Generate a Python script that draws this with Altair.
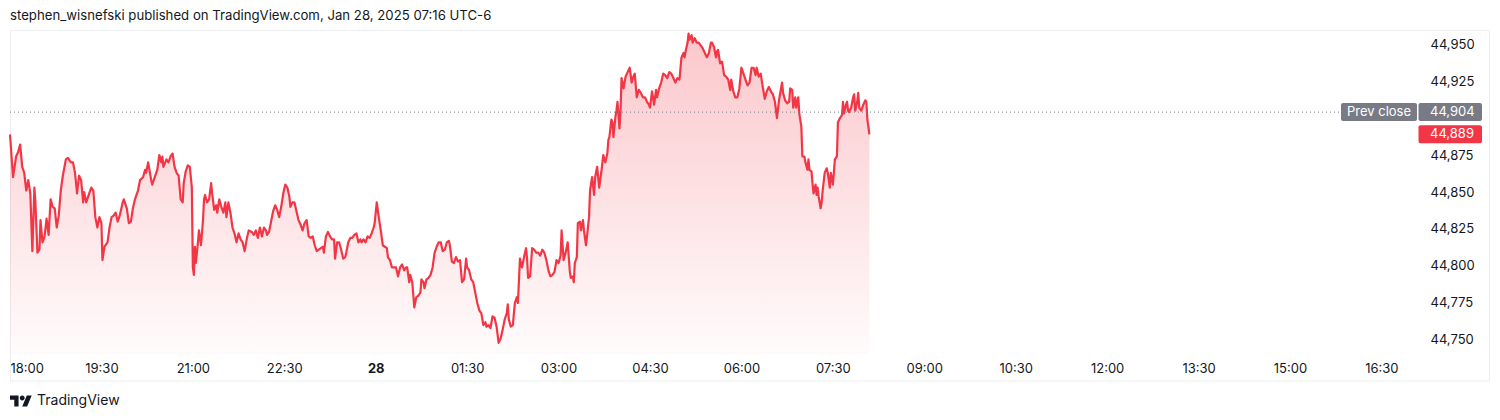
import altair as alt
import pandas as pd

# minutes after 18:00 (Jan 27) and price
MINUTES = [0,3,6,8,10,12,14,16,18,20,22,24,25,27,29,30,32,34,36,38,40,42,44,46,48,50,52,55,57,60,62,64,66,68,70,72,73,75,77,80,82,84,86,88,90,91,93,96,98,100,102,104,106,108,111,112,115,117,119,121,123,126,128,131,133,134,136,139,140,143,145,147,149,150,151,154,156,158,160,162,164,166,168,170,
171,173,175,177,179,180,181,182,183,185,186,188,190,191,192,194,196,198,199,201,203,204,206,208,210,212,213,215,217,219,221,223,225,227,229,231,233,235,238,240,242,244,246,248,250,252,253,255,257,259,261,263,265,267,269,271,273,275,276,278,280,282,284,286,288,290,292,294,296,298,300,302,304,306,308,309,311,313,315,317,319,320,322,324,326,328,330,331,333,335,337,339,341,343,345,
346,348,350,352,354,356,358,359,361,362,363,365,367,369,371,372,374,376,378,380,382,384,386,388,390,391,393,394,396,398,400,402,404,405,407,408,410,412,414,416,418,420,422,424,426,428,430,432,433,435,437,439,441,443,445,447,449,450,452,454,456,458,460,462,464,466,468,469,471,473,475,477,479,481,483,485,487,489,490,491,493,495,497,499,500,502,504,506,508,509,510,512,514,516,
518,520,522,524,526,528,530,532,534,536,538,540,542,543,545,547,549,551,552,554,555,556,558,559,561,562,564,565,567,568,570,571,573,575,576,578,580,582,584,586,588,589,590,592,593,594,596,597,598,600,601,602,604,606,608,610,612,613,615,617,619,621,623,625,627,629,630,632,633,634,636,637,639,641,643,645,647,649,651,653,655,657,659,661,663,664,665,667,668,669,671,672,674,676,678,680,
682,684,686,688,690,691,693,695,696,697,699,700,701,703,705,707,709,710,712,714,716,718,720,722,724,726,728,730,732,734,735,737,739,741,743,745,747,749,751,753,755,757,758,760,761,763,765,767,768,770,771,773,774,776,777,779,780,782,783,785,786,787,789,790,791,793,794,795,796,798,799,800,802,804,805,807,808,810,811,812,814,815,817,819,820,821,823,824,825,826,828,830,831,832,834,835,836,838,840,842,843,844,846]

PRICES = [44889,44860,44874,44877,44882,44867,44863,44851,44858,44849,44810,44853,44843,44809,44811,44831,44816,44820,44832,44821,44845,44840,44839,44826,44834,44851,44861,44872,44873,44870,44870,44863,44849,44861,44858,44843,44850,44843,44847,44853,44851,44833,44826,44833,44829,44804,44813,44816,44826,44833,44834,44836,44830,44834,44843,44845,44839,44829,44830,44839,44845,44851,44858,44860,44865,44863,44870,44858,44855,44861,44865,44875,44870,44874,44867,44872,44870,44874,44876,44867,44863,44861,44845,44843,
44856,44864,44868,44867,44853,44799,44794,44813,44802,44816,44824,44814,44831,44845,44848,44843,44845,44856,44849,44838,44841,44836,44845,44840,44836,44843,44833,44843,44836,44826,44822,44816,44822,44818,44816,44810,44818,44824,44823,44821,44824,44819,44826,44820,44826,44824,44821,44823,44830,44837,44841,44838,44833,44840,44849,44855,44853,44847,44840,44843,44843,44837,44831,44828,44824,44829,44831,44820,44819,44820,44814,44810,44811,44812,44813,44809,44820,44823,44820,44818,44818,44805,44816,44816,44811,44805,44806,44809,44816,44819,44819,44821,44822,44816,44818,
44816,44818,44816,44820,44819,44822,44826,44829,44843,44838,44833,44824,44814,44813,44812,44806,44804,44799,44799,44799,44793,44799,44801,44797,44799,44799,44789,44794,44789,44772,44779,44780,44782,44791,44789,44785,44791,44792,44794,44799,44809,44813,44816,44816,44810,44811,44816,44817,44814,44803,44802,44806,44803,44804,44789,44791,44805,44799,44797,44791,44789,44782,44775,44770,44768,44760,44762,44759,44760,44758,44766,44765,44759,44748,44751,44757,44764,44768,44774,44764,44759,44760,44775,44779,44775,44805,44799,44806,44812,44805,44792,44793,44812,44811,
44809,44809,44807,44811,44809,44804,44797,44793,44794,44796,44804,44802,44807,44824,44804,44809,44816,44797,44792,44793,44789,44802,44806,44829,44830,44824,44831,44824,44814,44820,44833,44851,44860,44848,44860,44867,44853,44863,44875,44870,44876,44885,44887,44899,44897,44887,44901,44905,44911,44893,44905,44927,44920,44928,44931,44934,44924,44927,44930,44914,44919,44917,44914,44914,44911,44909,44907,44918,44914,44909,44919,44914,44920,44924,44930,44929,44927,44931,44930,44927,44924,44927,44926,44941,44944,44941,44945,44951,44957,44953,44956,44951,44954,44951,44951,44949,
44947,44944,44941,44944,44951,44951,44948,44941,44945,44946,44937,44938,44938,44929,44928,44926,44919,44926,44918,44914,44914,44920,44934,44930,44926,44922,44924,44934,44934,44929,44934,44928,44930,44921,44913,44918,44921,44918,44916,44911,44900,44912,44916,44924,44917,44912,44910,44911,44920,44919,44907,44914,44907,44914,44903,44894,44874,44874,44870,44865,44872,44865,44864,44856,44849,44855,44848,44853,44847,44839,44843,44851,44863,44866,44863,44853,44863,44855,44863,44872,44874,44897,44900,44902,44911,44903,44909,44911,44905,44904,44907,44914,44916,44905,44911,44917,44907,44905,44909,44912,44911,44899,44889]

PREV_CLOSE = 44904
LAST_PRICE = PRICES[-1]

X_TICKS = [0, 90, 180, 270, 360, 450, 540, 630, 720, 810, 900, 990, 1080, 1170, 1260, 1350]
X_LABELS = ["18:00", "19:30", "21:00", "22:30", "28", "01:30", "03:00", "04:30",
            "06:00", "07:30", "09:00", "10:30", "12:00", "13:30", "15:00", "16:30"]
# 44,900 sits behind the price labels in the reference
Y_TICKS = [44750, 44775, 44800, 44825, 44850, 44875, 44925, 44950]

X_DOMAIN = [0, 1388]
Y_DOMAIN = [44740.5, 44959.5]

TITLE = "stephen_wisnefski published on TradingView.com, Jan 28, 2025 07:16 UTC-6"
BRAND = "TradingView"

RED = "#f23645"
GRAY = "#787b86"
TEXT = "#131722"
FONT = "Inter"

df = pd.DataFrame({"t": MINUTES, "p": PRICES})
one = pd.DataFrame({"a": [0]})
marks = pd.DataFrame({
    "v": [PREV_CLOSE, LAST_PRICE],
    "label": [f"{PREV_CLOSE:,}", f"{LAST_PRICE:,}"],
    "kind": ["prev", "last"],
})

label_expr = "[" + ",".join(f"'{s}'" for s in X_LABELS) + "][round(datum.value/90)]"

xscale = alt.Scale(domain=X_DOMAIN, nice=False, zero=False)
yscale = alt.Scale(domain=Y_DOMAIN, nice=False, zero=False)

xaxis = alt.Axis(
    values=X_TICKS, labelExpr=label_expr, title=None, grid=False, ticks=False,
    tickSize=0, domain=False, labelFlush=True, labelOverlap=False, labelBound=False,
    labelFontSize=13, labelColor=TEXT, labelFont=FONT, labelPadding=14,
    labelBaseline="middle",
    labelFontWeight={"condition": {"test": "datum.value === 360", "value": "bold"}, "value": "normal"},
)
yaxis = alt.Axis(
    values=Y_TICKS, format=",.0f", orient="right", title=None, grid=False, ticks=False,
    tickSize=0, domain=False, labelAlign="left", labelBaseline="middle", labelPadding=10,
    labelFontSize=13, labelColor=TEXT, labelFont=FONT, labelOverlap=False,
)

def Y(field):
    return alt.Y(field, scale=yscale, axis=yaxis)

def X(field):
    return alt.X(field, scale=xscale, axis=xaxis)

frame = alt.Chart(one).mark_rect(fill="transparent", stroke="#eceef2", strokeWidth=1).encode(
    x=alt.value(0.5), x2=alt.value(1479.5), y=alt.value(0.5), y2=alt.value(351)
)

gradient = alt.Gradient(
    gradient="linear",
    stops=[
        alt.GradientStop(color="rgba(242,54,69,0.28)", offset=0),
        alt.GradientStop(color="rgba(242,54,69,0.02)", offset=1),
    ],
    x1=1, x2=1, y1=0, y2=1,
)

area = alt.Chart(df).mark_area(color=gradient).encode(
    x=X("t:Q"), y=Y("p:Q"), y2=alt.datum(Y_DOMAIN[0]),
)

line = alt.Chart(df).mark_line(color=RED, strokeWidth=2.2, strokeJoin="round").encode(
    x=X("t:Q"), y=Y("p:Q"),
)

prev = marks[marks.kind == "prev"]
last = marks[marks.kind == "last"]

rule = alt.Chart(prev).mark_rule(color=GRAY, strokeDash=[1, 3], strokeWidth=1).encode(
    y=Y("v:Q"), x=alt.value(0), x2=alt.value(1331)
)

prev_box = alt.Chart(prev).mark_rect(color=GRAY, cornerRadius=2, yOffset=-9, y2Offset=9).encode(
    y=Y("v:Q"), y2="v:Q", x=alt.value(1331), x2=alt.value(1407)
)
prev_val_box = alt.Chart(prev).mark_rect(color=GRAY, cornerRadius=2, yOffset=-9, y2Offset=9).encode(
    y=Y("v:Q"), y2="v:Q", x=alt.value(1408.5), x2=alt.value(1472)
)
prev_text = alt.Chart(prev).mark_text(color="white", fontSize=13, font=FONT, align="center", baseline="middle").encode(
    y=Y("v:Q"), x=alt.value(1369), text=alt.value("Prev close")
)
prev_val_text = alt.Chart(prev).mark_text(color="white", fontSize=13, font=FONT, align="left", baseline="middle").encode(
    y=Y("v:Q"), x=alt.value(1420), text="label:N"
)

last_box = alt.Chart(last).mark_rect(color=RED, cornerRadius=2, yOffset=-9, y2Offset=9).encode(
    y=Y("v:Q"), y2="v:Q", x=alt.value(1408.5), x2=alt.value(1472)
)
last_text = alt.Chart(last).mark_text(color="white", fontSize=13, font=FONT, align="left", baseline="middle").encode(
    y=Y("v:Q"), x=alt.value(1420), text="label:N"
)

title = alt.Chart(one).mark_text(text=TITLE, fontSize=13.2, font=FONT, color=TEXT,
                                 align="left", baseline="middle").encode(
    x=alt.value(0), y=alt.value(-14)
)

LOGO = ("M-0.222,0.5 L-0.611,0.5 L-0.611,-0.111 L-1,-0.111 L-1,-0.5 L-0.222,-0.5 Z "
        "M0.556,0.5 L0.111,0.5 L0.528,-0.5 L0.972,-0.5 Z "
        "M-0.111,-0.278 A0.222,0.222 0 1,0 0.333,-0.278 A0.222,0.222 0 1,0 -0.111,-0.278 Z")
logo = alt.Chart(one).mark_point(shape=LOGO, filled=True, size=484, color=TEXT, opacity=1).encode(
    x=alt.value(11), y=alt.value(371)
)
brand = alt.Chart(one).mark_text(text=BRAND, fontSize=14, font=FONT, color=TEXT,
                                 align="left", baseline="middle").encode(
    x=alt.value(27), y=alt.value(371)
)

chart = alt.layer(
    frame, area, line, rule, prev_box, prev_val_box, prev_text, prev_val_text,
    last_box, last_text, title, logo, brand
).properties(
    width=1410, height=324,
    autosize=alt.AutoSizeParams(type="none"),
    padding={"left": 2, "top": 22, "right": 70, "bottom": 54},
).configure(font=FONT).configure_view(strokeWidth=0, stroke="transparent")

chart.save("out.html", embed_options={"renderer": "svg", "actions": False})
